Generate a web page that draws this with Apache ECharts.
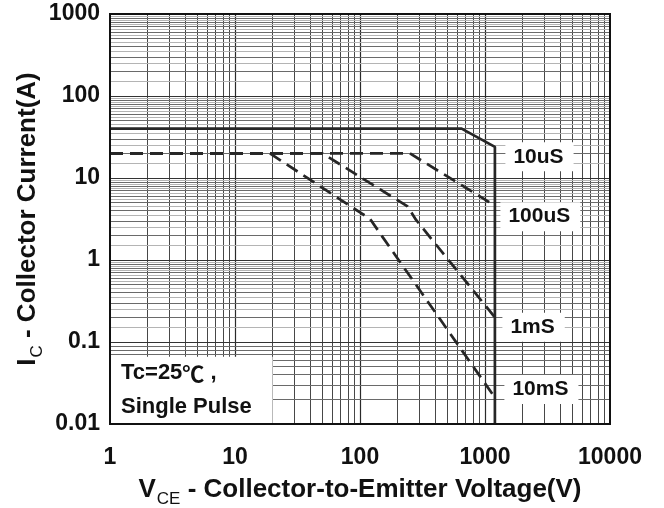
<!DOCTYPE html>
<html>
<head>
<meta charset="utf-8">
<script src="https://cdn.jsdelivr.net/npm/echarts@6/dist/echarts.min.js"></script>
<style>
html,body{margin:0;padding:0;background:#fff;}
#chart{width:664px;height:508px;}
</style>
</head>
<body>
<div id="chart"></div>
<script>
// ---- data ----
const xTicks = [1, 10, 100, 1000, 10000];
const xTickLabels = ['1', '10', '100', '1000', '10000'];
const yTicks = [0.01, 0.1, 1, 10, 100, 1000];
const yTickLabels = ['0.01', '0.1', '1', '10', '100', '1000'];

const seriesNames = ['10uS', '100uS', '1mS', '10mS'];
const v10us = [1, 650, 1200, 1200];
const i10us = [40, 40, 24, 0.01];
const v100us = [1, 250, 1200];
const i100us = [20, 20, 4.6];
const v1ms = [1, 50, 240, 280, 1200];
const i1ms = [20, 20, 4.5, 3.1, 0.2];
const v10ms = [1, 19, 100, 120, 145, 1200];
const i10ms = [20, 20, 3.8, 3.2, 2.1, 0.021];

const noteText = '{a|Tc=25}{c|\u2103}{a| ,}\n{a|Single Pulse}';
const noteBoxV = [1, 20];
const noteBoxI = [0.01, 0.066];

// ---- helpers ----
const pairs = (xs, ys) => xs.map((x, k) => [x, ys[k]]);
const fmt = (ticks, labels) => v => {
  for (let k = 0; k < ticks.length; k++) {
    if (Math.abs(Math.log10(v) - Math.log10(ticks[k])) < 1e-6) return labels[k];
  }
  return '';
};
const FONT = '"Liberation Sans", Arial, "Noto Sans CJK SC", sans-serif';

// grid lines (minor/major) built from the tick decades
const vLines = [];
for (let d = 0; d < xTicks.length - 1; d++) {
  for (let m = 2; m <= 9; m++) vLines.push({xAxis: xTicks[d] * m, lineStyle: {color: '#474747', width: 1, type: 'solid'}});
  if (d > 0) vLines.push({xAxis: xTicks[d], lineStyle: {color: '#2a2a2a', width: 1.2, type: 'solid'}});
}
const hLines = [];
for (let d = 0; d < yTicks.length - 1; d++) {
  for (let m = 1.5; m < 10; m += 1) hLines.push({yAxis: yTicks[d] * m, lineStyle: {color: '#b4b4b4', width: 1, type: 'solid'}});
  for (let m = 2; m <= 9; m++) hLines.push({yAxis: yTicks[d] * m, lineStyle: {color: '#6a6a6a', width: 1, type: 'solid'}});
  if (d > 0) hLines.push({yAxis: yTicks[d], lineStyle: {color: '#333', width: 1.2, type: 'solid'}});
}

const labelStyle = {
  show: true, position: 'right', distance: 5,
  fontFamily: FONT, fontSize: 21, fontWeight: 'bold', color: '#111',
  backgroundColor: '#fff', padding: [4, 10, 4, 8]
};
function curve(name, xs, ys, dashed, labelIdx, offset) {
  const d = pairs(xs, ys);
  return {
    name: name, type: 'line', data: d, z: 4,
    showSymbol: false, symbol: 'none', silent: true, animation: false,
    lineStyle: {color: '#262626', width: 2.7, type: dashed ? [13, 7] : 'solid'},
    markPoint: {
      silent: true, animation: false, z: 6,
      symbol: 'circle', symbolSize: 1, itemStyle: {color: 'rgba(0,0,0,0)'},
      data: [{coord: d[labelIdx], label: Object.assign({}, labelStyle, {formatter: name, offset: offset})}]
    }
  };
}
const titleRich = {
  a: {fontFamily: FONT, fontSize: 26, fontWeight: 'bold', color: '#111', lineHeight: 30, verticalAlign: 'bottom'},
  s: {fontFamily: FONT, fontSize: 17, color: '#111', lineHeight: 30, verticalAlign: 'bottom', padding: [0, 0, -5, 1]}
};

const chart = echarts.init(document.getElementById('chart'), null, {renderer: 'canvas'});
chart.setOption({
  animation: false,
  backgroundColor: '#fff',
  grid: {left: 110, right: 54, top: 14, bottom: 84, show: true, z: 10,
         containLabel: false, outerBoundsMode: 'none',
         borderColor: '#111', borderWidth: 2, backgroundColor: 'rgba(0,0,0,0)'},
  xAxis: {
    type: 'log', logBase: 10, min: xTicks[0], max: xTicks[xTicks.length - 1],
    axisLine: {show: false}, axisTick: {show: false}, splitLine: {show: false},
    axisLabel: {formatter: fmt(xTicks, xTickLabels), fontFamily: FONT, fontSize: 23,
                fontWeight: 'bold', color: '#111', margin: 22, showMinLabel: true, showMaxLabel: true},
    name: '{a|V}{s|CE}{a| - Collector-to-Emitter Voltage(V)}',
    nameLocation: 'middle', nameGap: 49,
    nameTextStyle: {rich: titleRich}
  },
  yAxis: {
    type: 'log', logBase: 10, min: yTicks[0], max: yTicks[yTicks.length - 1],
    axisLine: {show: false}, axisTick: {show: false}, splitLine: {show: false},
    axisLabel: {formatter: fmt(yTicks, yTickLabels), fontFamily: FONT, fontSize: 23,
                fontWeight: 'bold', color: '#111', margin: 10, showMinLabel: true, showMaxLabel: true},
    name: '{a|I}{s|C}{a| - Collector Current(A)}',
    nameLocation: 'middle', nameGap: 69, nameMoveOverlap: false,
    nameTextStyle: {rich: titleRich}
  },
  series: [
    {
      name: 'grid', type: 'line', data: [], z: 1, silent: true, animation: false,
      markLine: {silent: true, animation: false, z: 1, symbol: ['none', 'none'], label: {show: false},
                 data: vLines.concat(hLines)}
    },
    {
      name: 'note', type: 'line', data: [], z: 2, silent: true, animation: false,
      markArea: {
        silent: true, animation: false, z: 3,
        itemStyle: {color: '#fff', borderWidth: 0},
        label: {show: true, position: 'insideLeft', distance: 11, formatter: noteText, align: 'left',
                rich: {
                  a: {fontFamily: FONT, fontSize: 22, fontWeight: 'bold', color: '#111', lineHeight: 34},
                  c: {fontFamily: '"Noto Sans CJK SC", sans-serif', fontSize: 22, fontWeight: 'bold', color: '#111', lineHeight: 34}
                }},
        data: [[{coord: [noteBoxV[0], noteBoxI[0]]}, {coord: [noteBoxV[1], noteBoxI[1]]}]]
      }
    },
    curve(seriesNames[0], v10us, i10us, false, 2, [5, 10]),
    curve(seriesNames[1], v100us, i100us, true, 2, [0, 11]),
    curve(seriesNames[2], v1ms, i1ms, true, 4, [2, 10]),
    curve(seriesNames[3], v10ms, i10ms, true, 5, [4, -8])
  ]
});
</script>
</body>
</html>
